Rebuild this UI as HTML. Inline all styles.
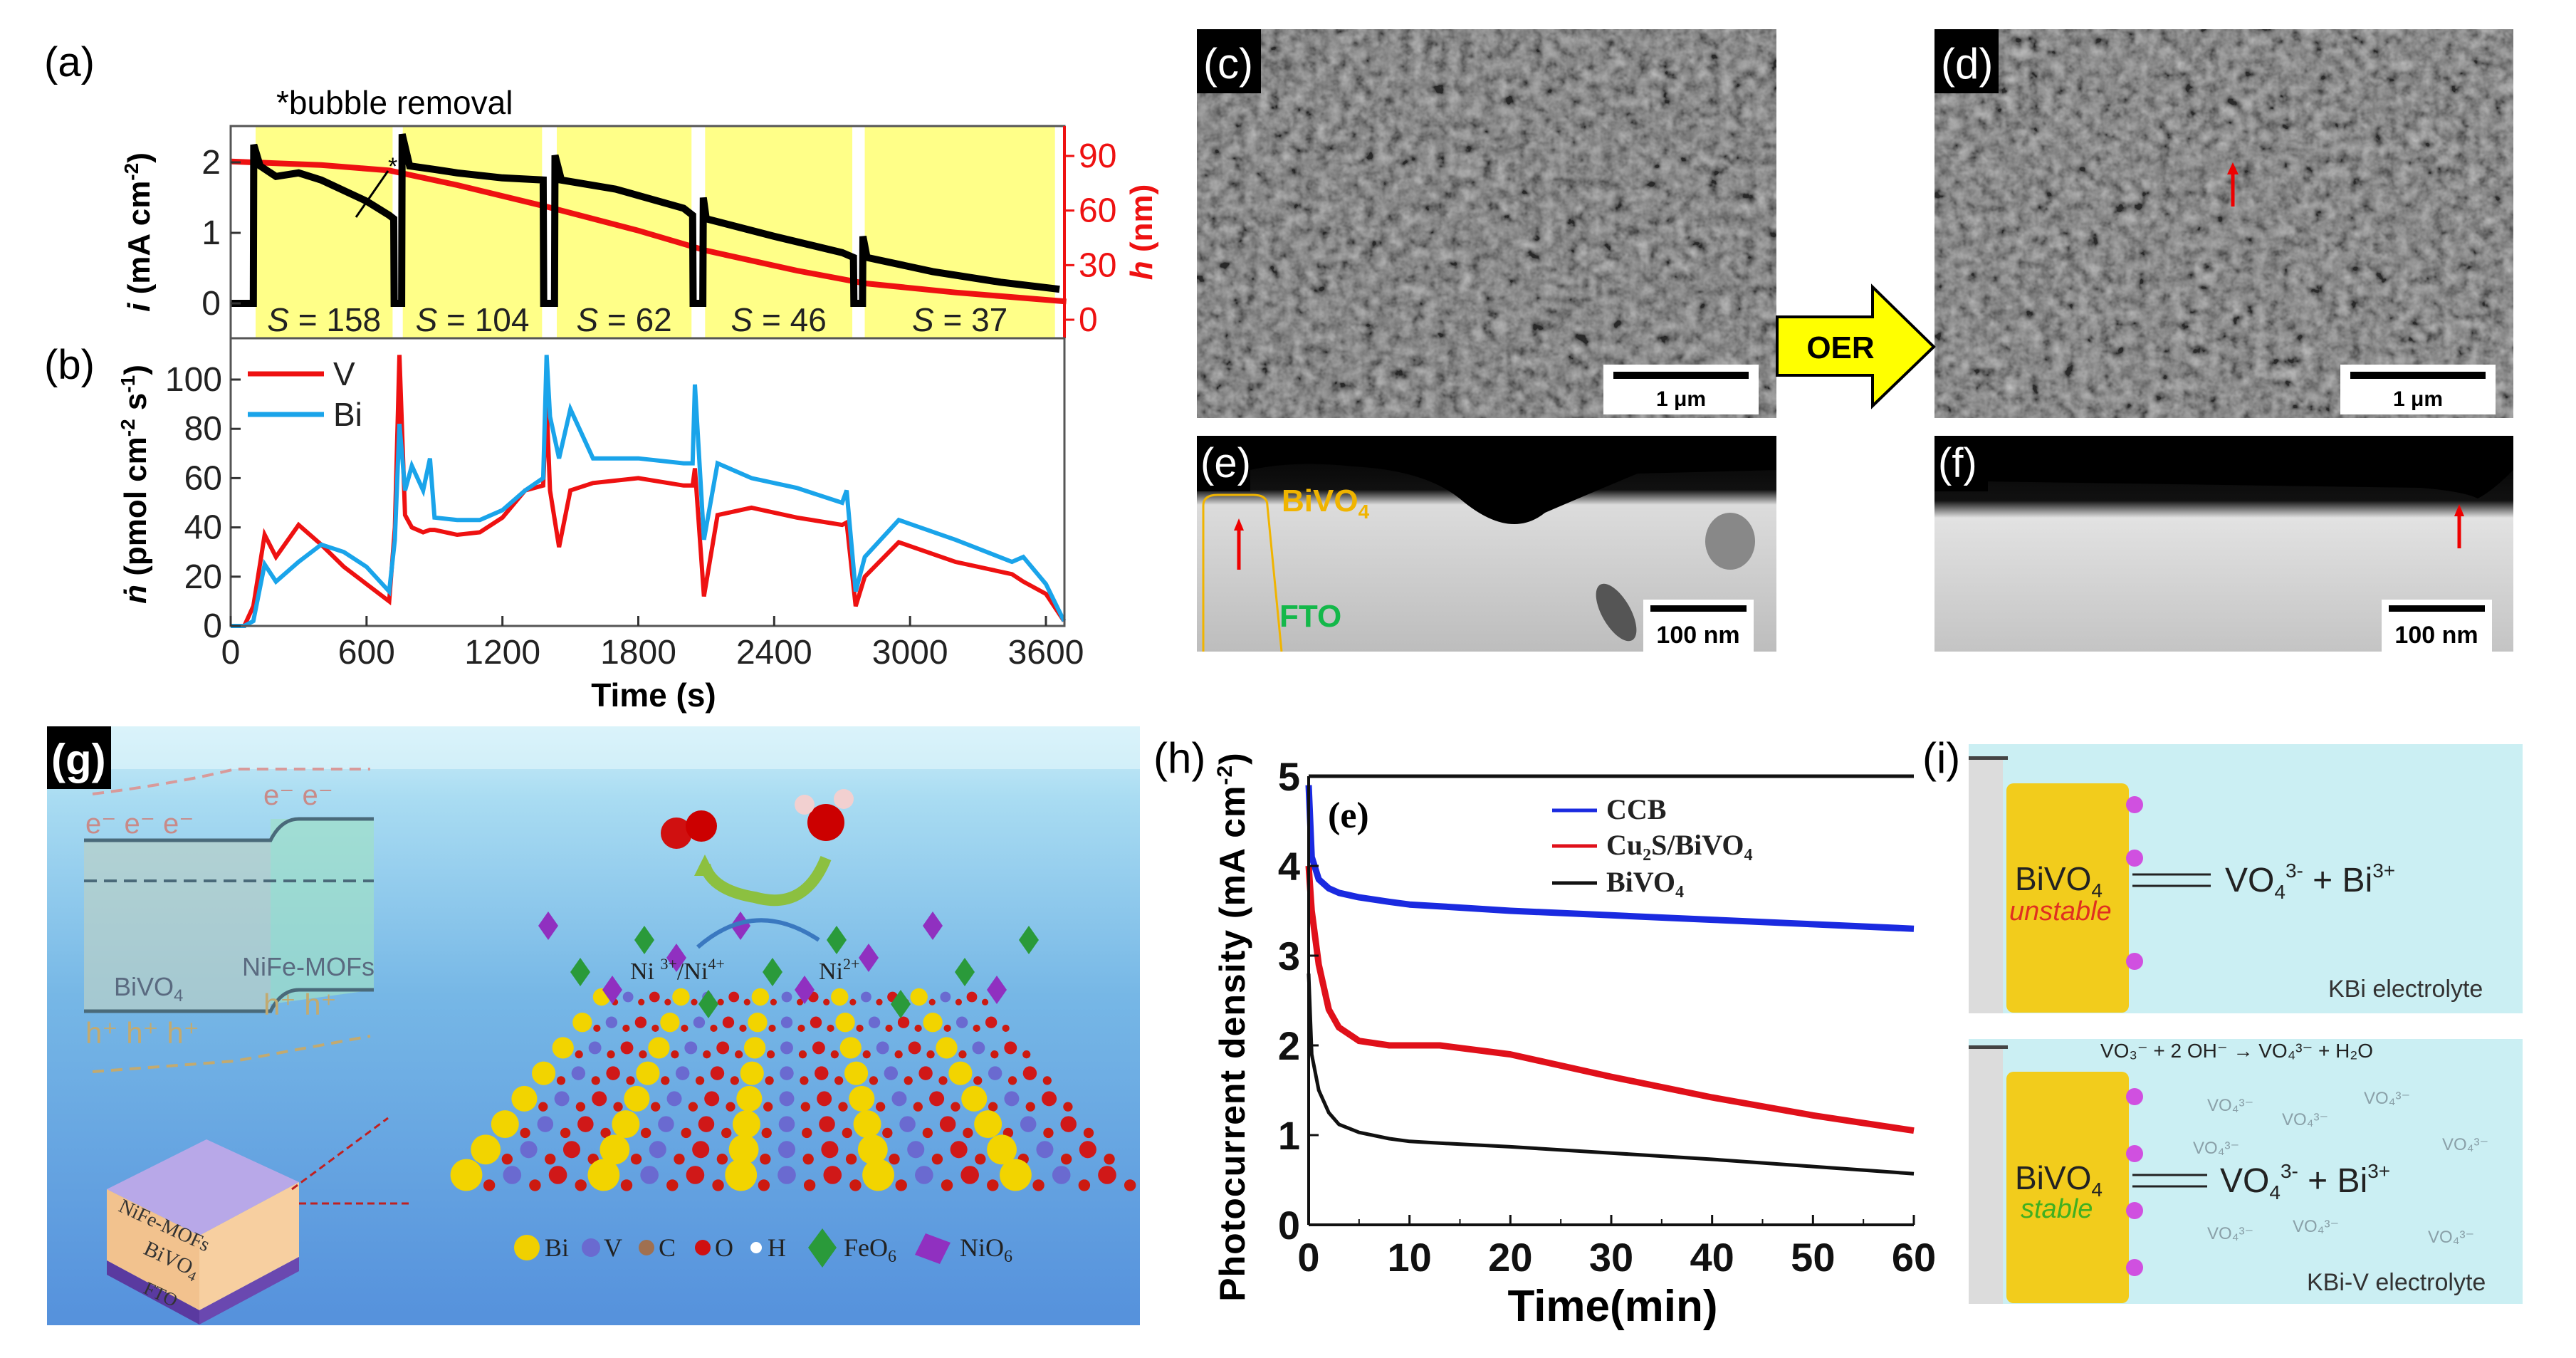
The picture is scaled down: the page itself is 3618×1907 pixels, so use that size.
<!DOCTYPE html>
<html><head><meta charset="utf-8"><style>
html,body{margin:0;padding:0;background:#fff;}
svg{display:block;font-family:"Liberation Sans",sans-serif;}
</style></head><body>
<svg id="fig" xmlns="http://www.w3.org/2000/svg" width="3618" height="1907" viewBox="0 0 3618 1907">
<defs>
<filter id="sem" x="0" y="0" width="100%" height="100%"><feTurbulence type="fractalNoise" baseFrequency="0.06" numOctaves="3" seed="3"/><feColorMatrix type="matrix" values="0.33 0.33 0.33 0 0  0.33 0.33 0.33 0 0  0.33 0.33 0.33 0 0  0 0 0 0 1"/><feComponentTransfer><feFuncR type="linear" slope="1.8" intercept="-0.55"/><feFuncG type="linear" slope="1.8" intercept="-0.55"/><feFuncB type="linear" slope="1.8" intercept="-0.55"/></feComponentTransfer></filter>
<linearGradient id="water" x1="0" y1="0" x2="0" y2="1"><stop offset="0" stop-color="#cdeef8"/><stop offset="0.12" stop-color="#a9dcf2"/><stop offset="0.45" stop-color="#76b7e6"/><stop offset="1" stop-color="#5591dc"/></linearGradient>
<linearGradient id="stemA" x1="0" y1="0" x2="0" y2="1"><stop offset="0" stop-color="#000"/><stop offset="0.25" stop-color="#111"/><stop offset="0.32" stop-color="#dcdcdc"/><stop offset="1" stop-color="#bdbdbd"/></linearGradient>
<linearGradient id="stemB" x1="0" y1="0" x2="0" y2="1"><stop offset="0" stop-color="#000"/><stop offset="0.3" stop-color="#111"/><stop offset="0.38" stop-color="#e2e2e2"/><stop offset="1" stop-color="#c4c4c4"/></linearGradient>
</defs>

<!-- ===== panels (a) & (b) ===== -->
<g>
<text x="62" y="107" font-size="58">(a)</text>
<text x="388" y="160" font-size="46">*bubble removal</text>
<g id="aShade"></g>
<g id="aPlot"></g>
<text x="62" y="532" font-size="58">(b)</text>
<g id="bPlot"></g>
</g>

<!-- ===== SEM (c),(d) ===== -->
<g>
<rect x="1681" y="41" width="814" height="546" fill="#666"/>
<rect x="1681" y="41" width="814" height="546" filter="url(#sem)" opacity="0.6"/>
<rect x="1681" y="41" width="90" height="90" fill="#000"/>
<text x="1690" y="110" font-size="60" fill="#fff">(c)</text>
<rect x="2252" y="512" width="218" height="70" fill="#fff"/>
<rect x="2266" y="522" width="190" height="10" fill="#000"/>
<text x="2361" y="570" font-size="30" font-weight="bold" text-anchor="middle">1 μm</text>
</g>
<g>
<rect x="2717" y="41" width="813" height="546" fill="#6a6a6a"/>
<rect x="2717" y="41" width="813" height="546" filter="url(#sem)" opacity="0.6"/>
<rect x="2717" y="41" width="90" height="90" fill="#000"/>
<text x="2726" y="110" font-size="60" fill="#fff">(d)</text>
<line x1="3136" y1="290" x2="3136" y2="240" stroke="#e00" stroke-width="5"/><path d="M3128 245 L3136 228 L3144 245Z" fill="#e00"/>
<rect x="3287" y="512" width="218" height="70" fill="#fff"/>
<rect x="3301" y="522" width="190" height="10" fill="#000"/>
<text x="3396" y="570" font-size="30" font-weight="bold" text-anchor="middle">1 μm</text>
</g>
<g>
<path d="M2496 445 L2630 445 L2630 403 L2716 487 L2630 570 L2630 527 L2496 527Z" fill="#ffff00" stroke="#000" stroke-width="4"/>
<text x="2585" y="503" font-size="44" font-weight="bold" text-anchor="middle">OER</text>
</g>
<!-- ===== STEM (e),(f) ===== -->
<g>
<rect x="1681" y="612" width="814" height="303" fill="url(#stemA)"/>
<path d="M1681 690 Q1760 640 1900 655 Q2000 660 2050 700 Q2120 760 2170 720 Q2240 690 2300 665 L2495 660 L2495 612 L1681 612Z" fill="#000"/>
<ellipse cx="2430" cy="760" rx="35" ry="40" fill="#888"/><ellipse cx="2270" cy="860" rx="20" ry="45" fill="#555" transform="rotate(-30 2270 860)"/>
<rect x="1681" y="612" width="75" height="78" fill="#000"/>
<text x="1686" y="670" font-size="58" fill="#fff">(e)</text>
<path d="M1690 915 L1690 710 Q1690 695 1710 695 L1760 695 Q1780 695 1780 710 L1800 915" fill="none" stroke="#f0b400" stroke-width="3"/>
<line x1="1740" y1="800" x2="1740" y2="740" stroke="#e00" stroke-width="5"/><path d="M1733 745 L1740 728 L1747 745Z" fill="#e00"/>
<text x="1800" y="718" font-size="44" font-weight="bold" fill="#f0b400">BiVO<tspan font-size="28" dy="10">4</tspan></text>
<text x="1797" y="880" font-size="44" font-weight="bold" fill="#14b84a">FTO</text>
<rect x="2308" y="842" width="155" height="73" fill="#fff"/><rect x="2318" y="850" width="135" height="9" fill="#000"/>
<text x="2385" y="903" font-size="34" font-weight="bold" text-anchor="middle">100 nm</text>
</g>
<g>
<rect x="2717" y="612" width="813" height="303" fill="url(#stemB)"/>
<path d="M2717 612 L3530 612 L3530 660 Q3500 690 3480 700 Q3460 690 3400 685 L2717 675Z" fill="#000"/>
<rect x="2717" y="612" width="75" height="78" fill="#000"/>
<text x="2722" y="670" font-size="58" fill="#fff">(f)</text>
<line x1="3454" y1="770" x2="3454" y2="720" stroke="#e00" stroke-width="5"/><path d="M3447 725 L3454 708 L3461 725Z" fill="#e00"/>
<rect x="3345" y="842" width="155" height="73" fill="#fff"/><rect x="3355" y="850" width="135" height="9" fill="#000"/>
<text x="3422" y="903" font-size="34" font-weight="bold" text-anchor="middle">100 nm</text>
</g>

<!-- ===== panel (g) ===== -->
<g>
<rect x="66" y="1020" width="1535" height="841" fill="url(#water)"/>
<rect x="66" y="1020" width="1535" height="60" fill="#e3f6fb" opacity="0.6"/>
<rect x="66" y="1020" width="90" height="88" fill="#000"/>
<text x="72" y="1087" font-size="60" font-weight="bold" fill="#fff">(g)</text>
<g>
<path d="M118 1180 L380 1180 L380 1420 L118 1420Z" fill="#b9d0c8" opacity="0.7"/>
<path d="M380 1150 L525 1150 L525 1390 L380 1410Z" fill="#9fe0c8" opacity="0.7"/>
<path d="M118 1180 L380 1180 Q395 1150 420 1150 L525 1150" fill="none" stroke="#4a6a7a" stroke-width="5"/>
<path d="M118 1420 L380 1420 Q395 1390 420 1390 L525 1390" fill="none" stroke="#4a6a7a" stroke-width="5"/>
<line x1="118" y1="1237" x2="525" y2="1237" stroke="#4a6a7a" stroke-width="4" stroke-dasharray="18 10"/>
<text x="160" y="1398" font-size="36" fill="#5a6a80">BiVO<tspan font-size="24" dy="8">4</tspan></text>
<text x="340" y="1370" font-size="36" fill="#5a6a80">NiFe-MOFs</text>
<text x="120" y="1170" font-size="40" fill="#c88a88">e⁻   e⁻   e⁻</text>
<text x="370" y="1130" font-size="40" fill="#c88a88">e⁻   e⁻</text>
<text x="120" y="1465" font-size="42" fill="#c2aa70">h⁺  h⁺ h⁺</text>
<text x="370" y="1425" font-size="42" fill="#c2aa70">h⁺   h⁺</text>
<path d="M130 1115 Q250 1100 330 1080 L520 1080" fill="none" stroke="#d89a9a" stroke-width="4" stroke-dasharray="16 10"/>
<path d="M130 1505 L330 1490 L520 1455" fill="none" stroke="#c2aa70" stroke-width="4" stroke-dasharray="16 10"/>
</g>
<g>
<path d="M150 1670 L290 1600 L420 1660 L280 1735Z" fill="#b8a8e8"/>
<path d="M150 1670 L280 1735 L280 1840 L150 1770Z" fill="#f2c28e"/>
<path d="M280 1735 L420 1660 L420 1765 L280 1840Z" fill="#f7cfa0"/>
<path d="M150 1770 L280 1840 L280 1860 L150 1790Z" fill="#5a3aa0"/>
<path d="M280 1840 L420 1765 L420 1785 L280 1860Z" fill="#6a48b0"/>
<text x="165" y="1700" font-size="28" font-family="Liberation Serif" fill="#333" transform="rotate(25 165 1700)">NiFe-MOFs</text>
<text x="200" y="1760" font-size="30" font-family="Liberation Serif" fill="#333" transform="rotate(25 200 1760)">BiVO<tspan font-size="20" dy="6">4</tspan></text>
<text x="200" y="1815" font-size="26" font-family="Liberation Serif" fill="#333" transform="rotate(25 200 1815)">FTO</text>
<line x1="420" y1="1690" x2="580" y2="1690" stroke="#c02020" stroke-width="3" stroke-dasharray="10 6"/>
<line x1="410" y1="1670" x2="545" y2="1570" stroke="#c02020" stroke-width="3" stroke-dasharray="10 6"/>
</g>
<g id="lattice"></g>
<g>
<circle cx="950" cy="1170" r="22" fill="#d01010"/><circle cx="985" cy="1160" r="22" fill="#c00"/>
<circle cx="1160" cy="1155" r="26" fill="#c00"/><circle cx="1130" cy="1130" r="14" fill="#f2d0d0"/><circle cx="1185" cy="1122" r="14" fill="#f2d0d0"/>
<path d="M1160 1205 Q1130 1280 1060 1260 Q1000 1250 990 1215" fill="none" stroke="#8cc040" stroke-width="16"/>
<path d="M975 1230 L990 1200 L1005 1230Z" fill="#8cc040"/>
<path d="M980 1330 Q1060 1260 1150 1320" fill="none" stroke="#3a78c0" stroke-width="6"/>
<text x="885" y="1375" font-size="34" font-family="Liberation Serif" fill="#222">Ni <tspan font-size="22" dy="-14">3+</tspan><tspan dy="14">/Ni</tspan><tspan font-size="22" dy="-14">4+</tspan></text>
<text x="1150" y="1375" font-size="34" font-family="Liberation Serif" fill="#222">Ni<tspan font-size="22" dy="-14">2+</tspan></text>
</g>
<g font-family="Liberation Serif" font-size="36" fill="#222">
<circle cx="740" cy="1752" r="18" fill="#f0d000"/><text x="765" y="1764">Bi</text>
<circle cx="830" cy="1752" r="13" fill="#6a6ad0"/><text x="848" y="1764">V</text>
<circle cx="908" cy="1752" r="11" fill="#a07050"/><text x="925" y="1764">C</text>
<circle cx="987" cy="1752" r="11" fill="#d01010"/><text x="1004" y="1764">O</text>
<circle cx="1062" cy="1752" r="8" fill="#fff"/><text x="1078" y="1764">H</text>
<path d="M1155 1725 L1175 1752 L1155 1780 L1135 1752Z" fill="#2a9a3a"/><text x="1185" y="1764">FeO<tspan font-size="24" dy="8">6</tspan></text>
<path d="M1300 1732 L1335 1745 L1320 1775 L1285 1762Z" fill="#9030c0"/><text x="1348" y="1764">NiO<tspan font-size="24" dy="8">6</tspan></text>
</g>
</g>

<!-- ===== panel (h) ===== -->
<g>
<text x="1620" y="1085" font-size="60">(h)</text>
<g id="hPlot"></g>
</g>

<!-- ===== panel (i) ===== -->
<g>
<text x="2700" y="1085" font-size="60">(i)</text>
<g>
<rect x="2765" y="1045" width="778" height="378" fill="#cbeff3"/>
<rect x="2765" y="1065" width="48" height="358" fill="#dcdcdc"/>
<rect x="2765" y="1062" width="55" height="5" fill="#444"/>
<rect x="2818" y="1100" width="172" height="322" rx="10" fill="#f2cc1c"/>
<circle cx="2998" cy="1130" r="12" fill="#d050e0"/><circle cx="2998" cy="1205" r="12" fill="#d050e0"/><circle cx="2998" cy="1350" r="12" fill="#d050e0"/>
<text x="2830" y="1250" font-size="46" fill="#222">BiVO<tspan font-size="28" dy="10">4</tspan></text>
<text x="2822" y="1292" font-size="38" font-style="italic" fill="#e03020">unstable</text>
<path d="M2995 1228 L3105 1228 M2995 1244 L3105 1244" stroke="#222" stroke-width="3"/>
<text x="3125" y="1252" font-size="48" fill="#222">VO<tspan font-size="28" dy="10">4</tspan><tspan font-size="28" dy="-30">3-</tspan><tspan dy="20">  +  Bi</tspan><tspan font-size="28" dy="-20">3+</tspan></text>
<text x="3270" y="1400" font-size="34" fill="#333">KBi electrolyte</text>
</g>
<g>
<rect x="2765" y="1459" width="778" height="372" fill="#cbeff3"/>
<rect x="2765" y="1470" width="48" height="361" fill="#dcdcdc"/>
<rect x="2765" y="1468" width="55" height="5" fill="#444"/>
<rect x="2818" y="1505" width="172" height="325" rx="10" fill="#f2cc1c"/>
<circle cx="2998" cy="1540" r="12" fill="#d050e0"/><circle cx="2998" cy="1620" r="12" fill="#d050e0"/><circle cx="2998" cy="1700" r="12" fill="#d050e0"/><circle cx="2998" cy="1780" r="12" fill="#d050e0"/>
<text x="2950" y="1485" font-size="28" fill="#222">VO₃⁻ + 2 OH⁻ → VO₄³⁻ + H₂O</text>
<text x="2830" y="1670" font-size="46" fill="#222">BiVO<tspan font-size="28" dy="10">4</tspan></text>
<text x="2838" y="1710" font-size="38" font-style="italic" fill="#40b020">stable</text>
<path d="M2995 1650 L3100 1650 M2995 1666 L3100 1666" stroke="#222" stroke-width="3"/>
<text x="3118" y="1674" font-size="48" fill="#222">VO<tspan font-size="28" dy="10">4</tspan><tspan font-size="28" dy="-30">3-</tspan><tspan dy="20">  +  Bi</tspan><tspan font-size="28" dy="-20">3+</tspan></text>
<g font-size="24" fill="#8aa0a8"><text x="3100" y="1560">VO₄³⁻</text><text x="3205" y="1580">VO₄³⁻</text><text x="3320" y="1550">VO₄³⁻</text><text x="3080" y="1620">VO₄³⁻</text><text x="3430" y="1615">VO₄³⁻</text><text x="3100" y="1740">VO₄³⁻</text><text x="3220" y="1730">VO₄³⁻</text><text x="3410" y="1745">VO₄³⁻</text></g>
<text x="3240" y="1812" font-size="34" fill="#333">KBi-V electrolyte</text>
</g>
</g>
</svg>
<script>
// ---------- panel (a) data ----------
const aTime=[0,100,102,130,200,300,400,500,600,700,720,722,755,757,790,900,1000,1200,1380,1382,1430,1432,1460,1700,2000,2040,2042,2085,2087,2100,2400,2700,2750,2752,2790,2792,2810,3100,3400,3660];
const aCurrent=[0,0,2.25,1.95,1.8,1.85,1.75,1.6,1.45,1.25,1.2,0,0,2.4,1.95,1.9,1.85,1.78,1.75,0,0,2.1,1.75,1.62,1.35,1.25,0,0,1.5,1.2,0.95,0.72,0.65,0,0,0.95,0.65,0.45,0.3,0.2];
const hTime=[0,400,700,1000,1400,1800,2100,2500,2800,3200,3690];
const hThick=[87,85,82,74,62,49,38,27,20,15,10];
const regionStart=[110,760,1440,2095,2800];
const regionEnd=[715,1375,2035,2745,3640];
const regionS=["158","104","62","46","37"];
const aLeftTicks=[0,1,2];
const aRightTicks=[0,30,60,90];
// ---------- panel (b) data ----------
const bTime=[0,60,100,150,200,300,400,500,600,700,725,745,770,800,850,880,900,1000,1100,1200,1300,1380,1395,1410,1450,1500,1600,1800,2000,2040,2050,2090,2150,2300,2500,2700,2720,2760,2800,2950,3200,3450,3500,3600,3680];
const bV=[0,0,8,37,28,41,33,24,17,10,40,110,45,40,38,39,39,37,38,44,55,57,90,55,32,55,58,60,57,57,64,12,45,48,44,41,42,8,20,34,26,21,18,13,2];
const bBi=[0,0,2,25,18,26,33,30,24,14,35,82,55,65,55,68,44,43,43,47,55,60,110,85,68,88,68,68,66,66,98,35,66,60,56,50,55,14,28,43,35,26,28,17,2];
const bXTicks=[0,600,1200,1800,2400,3000,3600];
const bYTicks=[0,20,40,60,80,100];
// ---------- panel (h) data ----------
const hMin=[0,0.3,1,2,3,5,8,10,13,20,30,40,50,60];
const hCCB=[4.9,4.1,3.85,3.75,3.7,3.65,3.6,3.57,3.55,3.5,3.45,3.4,3.35,3.3];
const hCu2S=[4.0,3.5,2.9,2.4,2.2,2.05,2.0,2.0,2.0,1.9,1.65,1.42,1.22,1.05];
const hBiVO4=[2.8,1.9,1.5,1.25,1.12,1.03,0.96,0.93,0.91,0.87,0.8,0.73,0.65,0.57];
const hXTicks=[0,10,20,30,40,50,60];
const hYTicks=[0,1,2,3,4,5];

const NS="http://www.w3.org/2000/svg";
function mk(tag,attrs,parent,txt){const e=document.createElementNS(NS,tag);for(const k in attrs)e.setAttribute(k,attrs[k]);if(txt!==undefined)e.textContent=txt;parent.appendChild(e);return e;}
function pts(xs,ys,fx,fy){return xs.map((x,i)=>fx(x).toFixed(1)+","+fy(ys[i]).toFixed(1)).join(" ");}

// ---- axes a/b
const X0=324,X1=1495;
const tx=t=>X0+(t/3600)*(1469-X0);
const ya=v=>426-v*99;
const yh=h=>449-h*(449-219)/90;
const yb=v=>879-v*3.46;
const aP=document.getElementById('aPlot'),aS=document.getElementById('aShade'),bP=document.getElementById('bPlot');
regionStart.forEach((s,i)=>{
 const r=mk('rect',{x:tx(s),y:177,width:tx(regionEnd[i])-tx(s),height:298,fill:'#ffff88'},aS);
 
 
 const t=mk('text',{x:(tx(s)+tx(regionEnd[i]))/2,y:465,'font-size':46,'text-anchor':'middle',fill:'#222'},aS);
 
 
 mk('tspan',{'font-style':'italic'},t,'S');mk('tspan',{},t,' = '+regionS[i]);
});
const hl=mk('polyline',{points:pts(hTime,hThick,tx,yh),fill:'none',stroke:'#ee1111','stroke-width':8},aP);


const il=mk('polyline',{points:pts(aTime,aCurrent,tx,ya),fill:'none',stroke:'#000','stroke-width':10},aP);


mk('path',{d:'M500 305 L545 240',stroke:'#000','stroke-width':3,fill:'none'},aP);
mk('text',{x:545,y:245,'font-size':34},aP,'*');
mk('rect',{x:X0,y:177,width:X1-X0,height:298,fill:'none',stroke:'#555','stroke-width':3},aP);
mk('line',{x1:X1,y1:177,x2:X1,y2:475,stroke:'#ee1111','stroke-width':4},aP);
aLeftTicks.forEach(v=>{mk('line',{x1:X0,y1:ya(v),x2:X0+14,y2:ya(v),stroke:'#333','stroke-width':3},aP);
 const t=mk('text',{x:X0-14,y:ya(v)+16,'font-size':48,'text-anchor':'end',fill:'#222'},aP,String(v));
 
 });
aRightTicks.forEach(v=>{mk('line',{x1:X1,y1:yh(v),x2:X1+14,y2:yh(v),stroke:'#ee1111','stroke-width':3},aP);
 const t=mk('text',{x:X1+20,y:yh(v)+16,'font-size':48,fill:'#ee1111'},aP,String(v));
 
 });
let t1=mk('text',{x:0,y:0,'font-size':44,'font-weight':'bold','text-anchor':'middle',transform:'translate(210,326) rotate(-90)'},aP);


mk('tspan',{'font-style':'italic'},t1,'i');mk('tspan',{},t1,' (mA cm');mk('tspan',{'font-size':28,dy:-16},t1,'-2');mk('tspan',{dy:16},t1,')');
let t2=mk('text',{x:0,y:0,'font-size':44,'font-weight':'bold','text-anchor':'middle',fill:'#ee1111',transform:'translate(1618,326) rotate(-90)'},aP);


mk('tspan',{'font-style':'italic'},t2,'h');mk('tspan',{},t2,' (nm)');

// ---- panel b
const vl=mk('polyline',{points:pts(bTime,bV,tx,yb),fill:'none',stroke:'#ee1111','stroke-width':6},bP);


const bl=mk('polyline',{points:pts(bTime,bBi,tx,yb),fill:'none',stroke:'#1aa4ea','stroke-width':6},bP);


mk('rect',{x:X0,y:475,width:X1-X0,height:404,fill:'none',stroke:'#555','stroke-width':3},bP);
bXTicks.forEach(v=>{mk('line',{x1:tx(v),y1:879,x2:tx(v),y2:865,stroke:'#333','stroke-width':3},bP);
 const t=mk('text',{x:tx(v),y:932,'font-size':48,'text-anchor':'middle',fill:'#222'},bP,String(v));
 
 });
bYTicks.forEach(v=>{mk('line',{x1:X0,y1:yb(v),x2:X0+14,y2:yb(v),stroke:'#333','stroke-width':3},bP);
 const t=mk('text',{x:X0-12,y:yb(v)+16,'font-size':48,'text-anchor':'end',fill:'#222'},bP,String(v));
 
 });
let t3=mk('text',{x:918,y:992,'font-size':46,'font-weight':'bold','text-anchor':'middle'},bP,'Time (s)');


let t4=mk('text',{x:0,y:0,'font-size':44,'font-weight':'bold','text-anchor':'middle',transform:'translate(205,680) rotate(-90)'},bP);


mk('tspan',{'font-style':'italic'},t4,'ṅ');mk('tspan',{},t4,' (pmol cm');mk('tspan',{'font-size':28,dy:-16},t4,'-2');mk('tspan',{dy:16},t4,' s');mk('tspan',{'font-size':28,dy:-16},t4,'-1');mk('tspan',{dy:16},t4,')');
mk('line',{x1:348,y1:525,x2:455,y2:525,stroke:'#ee1111','stroke-width':7},bP);
let l1=mk('text',{x:468,y:541,'font-size':46,fill:'#222'},bP,'V');


mk('line',{x1:348,y1:582,x2:455,y2:582,stroke:'#1aa4ea','stroke-width':7},bP);
let l2=mk('text',{x:468,y:598,'font-size':46,fill:'#222'},bP,'Bi');



// ---- panel h
const hP=document.getElementById('hPlot');
const HX0=1838,HX1=2688,HY0=1720,HY1=1090;
const hx=m=>HX0+m/60*(HX1-HX0);
const hy=v=>HY0-v/5*(HY0-HY1);
[[hCCB,'#1a2ae0','ccb-line',9],[hCu2S,'#e0101a','cu2s-line',9],[hBiVO4,'#111','bivo4-line',5]].forEach(s=>{
 const p=mk('polyline',{points:pts(hMin,s[0],hx,hy),fill:'none',stroke:s[1],'stroke-width':s[3],'stroke-linejoin':'round'},hP);
 
 
});
mk('line',{x1:HX0,y1:HY1,x2:HX1,y2:HY1,stroke:'#111','stroke-width':5},hP);
mk('line',{x1:HX0,y1:HY0,x2:HX1,y2:HY0,stroke:'#111','stroke-width':4},hP);
mk('line',{x1:HX0,y1:HY0,x2:HX0,y2:HY1,stroke:'#111','stroke-width':4},hP);
hXTicks.forEach(v=>{mk('line',{x1:hx(v),y1:HY0,x2:hx(v),y2:HY0-14,stroke:'#111','stroke-width':3},hP);
 if(v<60)mk('line',{x1:hx(v+5),y1:HY0,x2:hx(v+5),y2:HY0-8,stroke:'#111','stroke-width':2},hP);
 const t=mk('text',{x:hx(v),y:HY0+65,'font-size':56,'font-weight':'bold','text-anchor':'middle',fill:'#111'},hP,String(v));
 
 });
hYTicks.forEach(v=>{mk('line',{x1:HX0,y1:hy(v),x2:HX0+14,y2:hy(v),stroke:'#111','stroke-width':3},hP);
 const t=mk('text',{x:HX0-12,y:hy(v)+20,'font-size':56,'font-weight':'bold','text-anchor':'end',fill:'#111'},hP,String(v));
 
 });
let t5=mk('text',{x:2265,y:1855,'font-size':62,'font-weight':'bold','text-anchor':'middle'},hP,'Time(min)');


let t6=mk('text',{x:0,y:0,'font-size':50,'font-weight':'bold','text-anchor':'middle','letter-spacing':1,transform:'translate(1748,1442) rotate(-90)'},hP);


mk('tspan',{},t6,'Photocurrent density (mA cm');mk('tspan',{'font-size':30,dy:-18},t6,'-2');mk('tspan',{dy:18},t6,')');
mk('text',{x:1865,y:1162,'font-size':52,'font-family':'Liberation Serif','font-weight':'bold'},hP,'(e)');
const leg=[['CCB','#1a2ae0',1150],['Cu₂S/BiVO₄','#e0101a',1200],['BiVO₄','#111',1252]];
leg.forEach(l=>{mk('line',{x1:2180,y1:l[2]-12,x2:2243,y2:l[2]-12,stroke:l[1],'stroke-width':5},hP);
 const t=mk('text',{x:2256,y:l[2],'font-size':40,'font-family':'Liberation Serif','font-weight':'bold',fill:'#222'},hP,l[0]);
 
 });

// ---- lattice decoration (g): perspective trapezoid, x 650-1557, y 1390-1670
const L=document.getElementById('lattice');
const rows=8;
for(let r=0;r<rows;r++){
 const f=r/(rows-1);
 const y=1400+f*250;
 const half=260+f*190;
 const cx=1105;
 const n=14;
 const s=0.6+0.6*f;
 for(let c=0;c<=n;c++){
  const x=cx-half+c*(2*half/n);
  const k=c%3;
  mk('circle',{cx:x,cy:y,r:(k===0?17:9)*s+2,fill:k===0?'#f2d400':(k===1?'#6a6ad0':'#d01818')},L);
  mk('circle',{cx:x+half/n,cy:y+12*s,r:6*s+1,fill:'#cc1a10'},L);
 }
}
for(let i=0;i<16;i++){const x=770+i*45;const y=1300+(i%3)*45+(i%2)*20;
 mk('path',{d:`M${x} ${y-20} L${x+14} ${y} L${x} ${y+20} L${x-14} ${y}Z`,fill:i%2?'#2a9a3a':'#9030c0'},L);}
</script>
</body></html>
